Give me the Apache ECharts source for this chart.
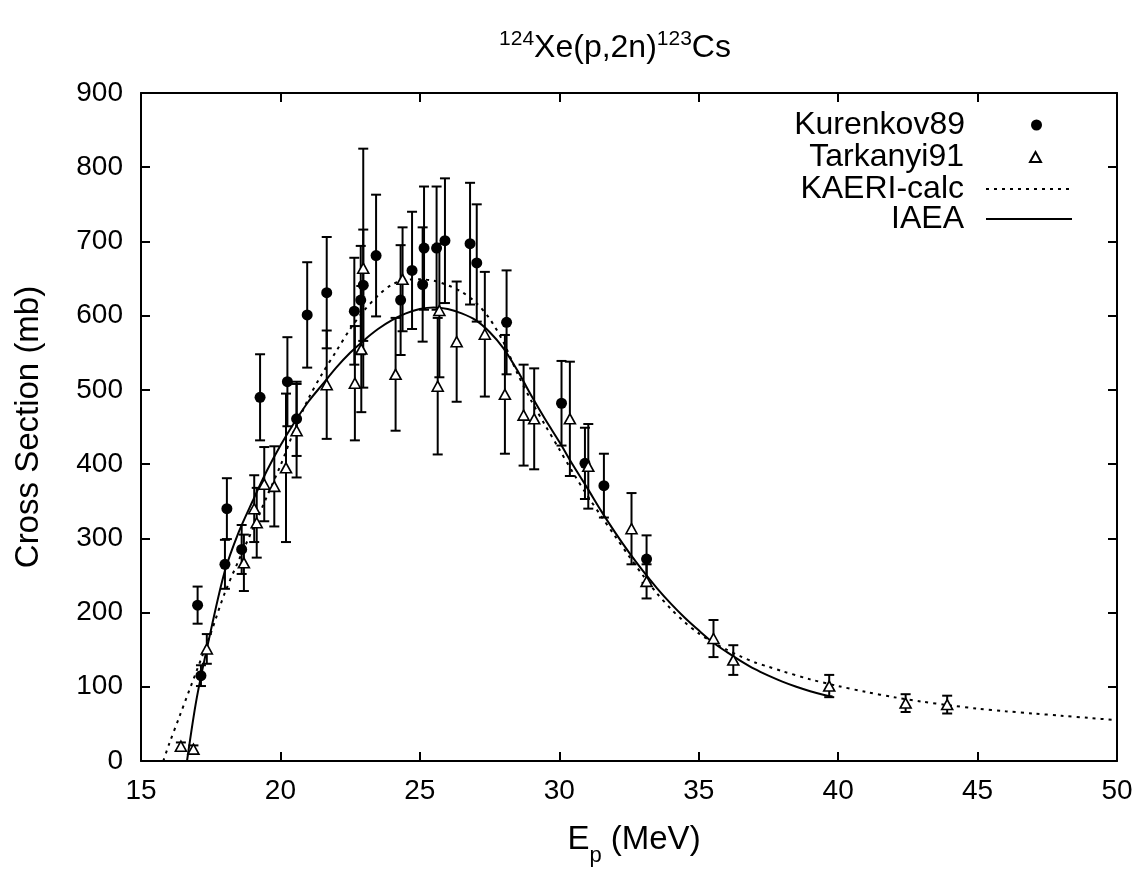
<!DOCTYPE html>
<html>
<head>
<meta charset="utf-8">
<script src="https://cdn.jsdelivr.net/npm/echarts@6/dist/echarts.min.js"></script>
<style>
html,body{margin:0;padding:0;background:#fff;}
#chart{width:1138px;height:872px;}
</style>
</head>
<body>
<div id="chart"></div>
<script>
// ---- data ----
const xTicks = [15, 20, 25, 30, 35, 40, 45, 50];
const yTicks = [0, 100, 200, 300, 400, 500, 600, 700, 800, 900];

const kurE   = [17.03, 17.15, 18.01, 18.08, 18.61, 19.27, 20.25, 20.58, 20.96, 21.66, 22.65, 22.88, 22.97, 23.43, 24.31, 24.72, 25.10, 25.15, 25.60, 25.90, 26.80, 27.04, 28.11, 30.08, 30.92, 31.60, 33.13];
const kurS   = [210, 115, 265, 340, 285, 490, 511, 461, 601, 631, 606, 621, 641, 681, 621, 661, 642, 691, 691, 701, 697, 671, 591, 482, 401, 371, 272];
const kurErr = [25, 14, 33, 41, 33, 58, 60, 50, 71, 75, 72, 73, 75, 82, 74, 79, 77, 83, 83, 84, 82, 79, 70, 57, 48, 43, 32];

const tarE   = [16.43, 16.88, 17.36, 18.69, 19.06, 19.15, 19.42, 19.78, 20.20, 20.58, 21.66, 22.67, 22.90, 22.97, 24.13, 24.38, 25.64, 25.70, 26.32, 27.33, 28.05, 28.72, 29.10, 30.38, 31.04, 32.59, 33.13, 35.53, 36.24, 39.68, 42.42, 43.91];
const tarS   = [20, 16, 151, 267, 340, 321, 373, 370, 395, 445, 507, 509, 555, 664, 521, 649, 505, 607, 565, 575, 494, 466, 461, 461, 397, 313, 242, 165, 136, 101, 78, 76];
const tarErr = [5, 5, 20, 38, 45, 47, 50, 54, 100, 63, 73, 77, 85, 161, 76, 70, 92, 90, 81, 84, 80, 68, 68, 77, 57, 48, 23, 25, 20, 15, 12, 12];

const kaeriE = [15.8, 16.0, 16.4, 17.0, 17.5, 18.0, 18.5, 19.0, 19.5, 20.0, 20.5, 21.0, 21.5, 22.0, 22.5, 23.0, 23.5, 24.0, 24.5, 25.0, 25.5, 26.0, 26.5, 27.0, 27.5, 28.0, 28.5, 29.0, 29.5, 30.0, 30.5, 31.0, 31.5, 32.0, 32.5, 33.0, 33.5, 34.0, 34.5, 35.0, 35.5, 36.0, 36.5, 37.0, 37.5, 38.0, 39.0, 40.0, 41.0, 42.0, 43.0, 44.0, 45.0, 46.0, 47.0, 48.0, 49.0, 50.0];
const kaeriS = [0, 22, 62, 122, 172, 226, 270, 312, 355, 398, 446, 488, 522, 552, 582, 607, 627, 642, 648, 649, 647, 641, 632, 618, 596, 564, 522, 485, 452, 420, 388, 358, 330, 303, 276, 250, 226, 205, 187, 172, 160, 150, 141, 133, 127, 121, 110, 101, 93, 86, 80, 75, 70.5, 67, 64, 61, 58, 55];

const iaeaE = [16.65, 17.0, 17.5, 18.0, 18.5, 19.0, 19.5, 20.0, 20.5, 21.0, 21.5, 22.0, 22.5, 23.0, 23.5, 24.0, 24.5, 25.0, 25.5, 26.0, 26.5, 27.0, 27.5, 28.0, 28.5, 29.0, 29.5, 30.0, 30.5, 31.0, 31.5, 32.0, 32.5, 33.0, 33.5, 34.0, 34.5, 35.0, 35.5, 36.0, 36.5, 37.0, 37.5, 38.0, 38.5, 39.0, 39.5, 39.8];
const iaeaS = [0, 85, 175, 255, 308, 350, 390, 425, 456, 484, 507, 530, 550, 567, 582, 594, 603, 609, 611, 609, 603, 594, 578, 556, 526, 492, 460, 430, 398, 368, 337, 308, 281, 256, 233, 212, 193, 176, 160, 147, 135, 124, 115, 107, 100, 94, 89, 87];

const names = ['Kurenkov89', 'Tarkanyi91', 'KAERI-calc', 'IAEA'];
const titleParts = ['124', 'Xe(p,2n)', '123', 'Cs'];

// ---- build ----
const FONT = "'Liberation Sans', Arial, Helvetica, sans-serif";
const pairs = (xs, ys) => xs.map((x, i) => [x, ys[i]]);
const errData = (xs, ys, es) => xs.map((x, i) => [x, Math.max(0, ys[i] - es[i]), ys[i] + es[i]]);

function errRender(params, api) {
  const x = api.value(0);
  const lo = api.coord([x, api.value(1)]);
  const hi = api.coord([x, api.value(2)]);
  const w = 5;
  const st = { stroke: '#000', lineWidth: 2 };
  return {
    type: 'group',
    children: [
      { type: 'line', shape: { x1: lo[0], y1: lo[1], x2: hi[0], y2: hi[1] }, style: st },
      { type: 'line', shape: { x1: lo[0] - w, y1: lo[1], x2: lo[0] + w, y2: lo[1] }, style: st },
      { type: 'line', shape: { x1: hi[0] - w, y1: hi[1], x2: hi[0] + w, y2: hi[1] }, style: st }
    ]
  };
}

const axisCommon = {
  type: 'value',
  axisLine: { show: true, onZero: false, lineStyle: { color: '#000', width: 2 } },
  axisTick: { show: true, inside: true, length: 9, lineStyle: { color: '#000', width: 2 } },
  splitLine: { show: false }
};

const legendTops = [109, 141, 173, 203];
const legTextStyle = pad => ({ fontFamily: FONT, fontSize: 32, color: '#000', padding: [0, pad, 0, 0] });
const legends = [
  { data: [{ name: names[0], icon: 'circle' }], right: 96, itemWidth: 11, itemHeight: 11, textStyle: legTextStyle(61) },
  { data: [{ name: names[1], icon: 'triangle' }], right: 96, itemWidth: 11, itemHeight: 10, textStyle: legTextStyle(61) },
  { data: [{ name: names[2], itemStyle: { opacity: 0 } }], right: 65, itemWidth: 86, itemHeight: 11, textStyle: legTextStyle(17) },
  { data: [{ name: names[3], itemStyle: { opacity: 0 } }], right: 65, itemWidth: 86, itemHeight: 11, textStyle: legTextStyle(17) }
].map((l, i) => Object.assign(l, {
  top: legendTops[i], orient: 'vertical', align: 'right', padding: 0, selectedMode: false
}));

const option = {
  animation: false,
  backgroundColor: '#fff',
  title: {
    text: '{sup|' + titleParts[0] + '}{b|' + titleParts[1] + '}{sup|' + titleParts[2] + '}{b|' + titleParts[3] + '}',
    left: 610,
    top: 24,
    textAlign: 'center',
    textStyle: {
      fontWeight: 'normal',
      rich: {
        b: { fontFamily: FONT, fontSize: 32, fontWeight: 'normal', color: '#000', lineHeight: 38 },
        sup: { fontFamily: FONT, fontSize: 21, fontWeight: 'normal', color: '#000', lineHeight: 14, verticalAlign: 'top' }
      }
    }
  },
  legend: legends,
  grid: { left: 141, right: 21, top: 93, bottom: 107 },
  xAxis: [
    Object.assign({}, axisCommon, {
      position: 'bottom', min: xTicks[0], max: xTicks[xTicks.length - 1], interval: 5,
      axisLabel: { fontFamily: FONT, fontSize: 28, color: '#000', margin: 16 },
      name: '{b|E}{sub|p}{b| (MeV)}',
      nameLocation: 'middle',
      nameGap: 60,
      nameTextStyle: {
        padding: [0, 0, 0, 10],
        rich: {
          b: { fontFamily: FONT, fontSize: 33, color: '#000', lineHeight: 38 },
          sub: { fontFamily: FONT, fontSize: 22, color: '#000', lineHeight: 14, verticalAlign: 'bottom', padding: [0, 0, -8, 0] }
        }
      }
    }),
    Object.assign({}, axisCommon, {
      position: 'top', min: xTicks[0], max: xTicks[xTicks.length - 1], interval: 5,
      axisLabel: { show: false }
    })
  ],
  yAxis: [
    Object.assign({}, axisCommon, {
      position: 'left', min: yTicks[0], max: yTicks[yTicks.length - 1], interval: 100,
      axisLabel: { fontFamily: FONT, fontSize: 28, color: '#000', margin: 18 },
      name: 'Cross Section (mb)',
      nameLocation: 'middle',
      nameGap: 96,
      nameRotate: 90,
      nameTextStyle: { fontFamily: FONT, fontSize: 33, color: '#000' }
    }),
    Object.assign({}, axisCommon, {
      position: 'right', min: yTicks[0], max: yTicks[yTicks.length - 1], interval: 100,
      axisLabel: { show: false }
    })
  ],
  series: [
    {
      name: names[2], type: 'line', data: pairs(kaeriE, kaeriS), showSymbol: false, symbol: 'none',
      smooth: 0.3, lineStyle: { color: '#000', width: 2, type: [3, 5] }, itemStyle: { color: '#000' }, z: 2
    },
    {
      name: names[3], type: 'line', data: pairs(iaeaE, iaeaS), showSymbol: false, symbol: 'none',
      smooth: 0.3, lineStyle: { color: '#000', width: 2 }, itemStyle: { color: '#000' }, z: 2
    },
    { name: 'kurErr', type: 'custom', renderItem: errRender, data: errData(kurE, kurS, kurErr), z: 3, silent: true },
    { name: 'tarErr', type: 'custom', renderItem: errRender, data: errData(tarE, tarS, tarErr), z: 3, silent: true },
    {
      name: names[0], type: 'scatter', data: pairs(kurE, kurS), symbol: 'circle', symbolSize: 11,
      itemStyle: { color: '#000', opacity: 1 }, z: 5
    },
    {
      name: names[1], type: 'scatter', data: pairs(tarE, tarS), symbol: 'triangle', symbolSize: [11, 10],
      itemStyle: { color: '#fff', borderColor: '#000', borderWidth: 1.6, opacity: 1 }, z: 5
    }
  ]
};

const chart = echarts.init(document.getElementById('chart'), null, { renderer: 'canvas' });
chart.setOption(option);
</script>
</body>
</html>
